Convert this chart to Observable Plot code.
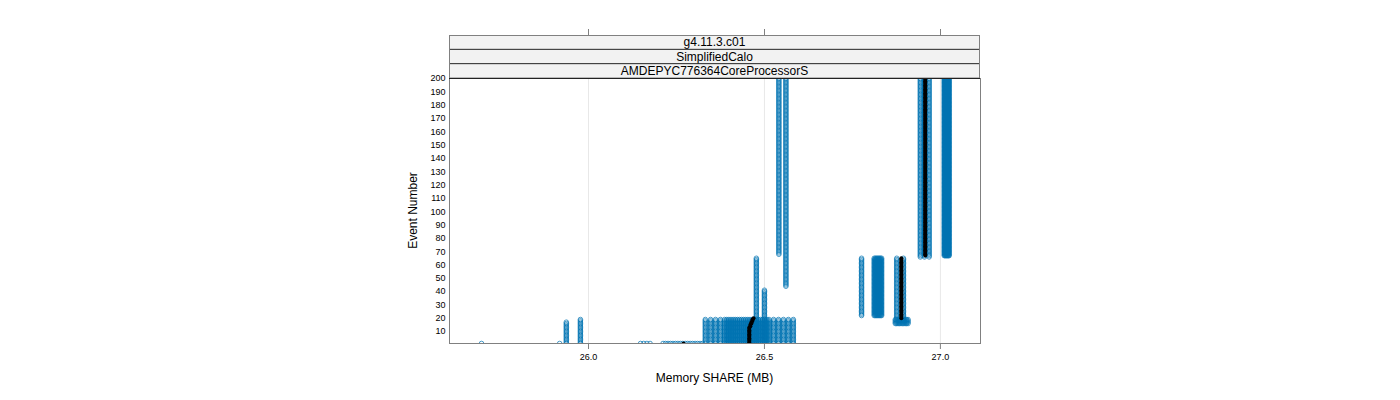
<!DOCTYPE html>
<html><head><meta charset="utf-8">
<script src="https://cdn.jsdelivr.net/npm/d3@7"></script>
<script src="https://cdn.jsdelivr.net/npm/@observablehq/plot@0.6"></script>
<style>body{margin:0;background:#fff;} svg{display:block;}</style>
</head><body><div id="chart"></div>
<script>
// ---- data ----
const stripLabels = ["g4.11.3.c01", "SimplifiedCalo", "AMDEPYC776364CoreProcessorS"];
const xTicks = [26.0, 26.5, 27.0];
const yTicks = [10, 20, 30, 40, 50, 60, 70, 80, 90, 100, 110, 120, 130, 140, 150, 160, 170, 180, 190, 200];
const xLabel = "Memory SHARE (MB)";
const yLabel = "Event Number";

// blue series: memory values (MB) observed over a run of event numbers
const blueClusterX = [
  [25.696],
  [25.918],
  [25.937],
  [25.977],
  [26.148, 26.157, 26.166, 26.175, 26.212, 26.219, 26.226, 26.233, 26.240, 26.247, 26.254, 26.261, 26.268, 26.275, 26.282, 26.289, 26.296, 26.303, 26.310, 26.317, 26.324],
  [26.332, 26.347, 26.361, 26.375, 26.387, 26.393, 26.399, 26.405, 26.411, 26.417, 26.423, 26.429, 26.435, 26.441, 26.447, 26.453, 26.459, 26.465, 26.471, 26.477, 26.483, 26.489, 26.495, 26.501, 26.507, 26.513, 26.526, 26.540, 26.554, 26.568, 26.582],
  [26.477],
  [26.500],
  [26.541],
  [26.561],
  [26.776],
  [26.812, 26.815, 26.818, 26.821, 26.824, 26.827, 26.830, 26.833],
  [26.876, 26.895],
  [26.872, 26.876, 26.880, 26.884, 26.888, 26.892, 26.896, 26.900, 26.904, 26.908],
  [26.943, 26.955, 26.968],
  [27.011, 27.013, 27.015, 27.017, 27.019, 27.021, 27.023, 27.025]
];
const blueFrom = [1, 1, 1, 1, 1, 1, 1, 1, 68, 44, 22, 22, 20, 16, 66, 67];
const blueTo   = [1, 1, 17, 19, 1, 19, 65, 41, 200, 200, 65, 65, 65, 19, 200, 200];

// black series
const blackX    = [26.270, 26.457, 26.460, 26.463, 26.466, 26.469, 26.889, 26.957];
const blackFrom = [1, 1, 14, 16, 18, 20, 20, 67];
const blackTo   = [1, 13, 15, 17, 19, 20, 65, 200];

(function () {
  // ---- expand run lists into points ----
  const blue = [];
  blueClusterX.forEach((xs, i) => {
    for (const x of xs) for (let e = blueFrom[i]; e <= blueTo[i]; e++) blue.push({x, e});
  });
  const black = [];
  blackX.forEach((x, i) => {
    for (let e = blackFrom[i]; e <= blackTo[i]; e++) black.push({x, e});
  });

  const FONT = "'Liberation Sans', Arial, sans-serif";
  const frameColor = "#808080";

  const plot = Plot.plot({
    width: 1400, height: 400,
    marginLeft: 449, marginRight: 420, marginTop: 78, marginBottom: 57,
    style: {fontFamily: FONT, fontSize: "9px", background: "#fff", color: "#000", overflow: "visible"},
    x: {domain: [25.605, 27.114]},
    y: {domain: [1, 200]},
    marks: [
      Plot.gridX(xTicks, {stroke: "#e8e8e8", strokeOpacity: 1, strokeWidth: 1}),
      Plot.dot(blue, {x: "x", y: "e", r: 2.3, stroke: "#0072B2", strokeWidth: 0.7, fill: "none", clip: true}),
      Plot.dot(black, {x: "x", y: "e", r: 2, fill: "#000", stroke: "none", clip: true}),
      Plot.frame({stroke: frameColor}),
      Plot.axisX({ticks: xTicks, tickFormat: d3.format(".1f"), tickSize: 6, tickPadding: 4, stroke: frameColor, fill: "#000", label: null, fontSize: 9}),
      Plot.axisY({ticks: yTicks, tickSize: 0, tickPadding: 4, fill: "#000", label: null, fontSize: 9})
    ]
  });
  document.getElementById("chart").appendChild(plot);

  // ---- strips, top ticks, axis titles ----
  const svg = d3.select(plot);
  const sx = plot.scale("x");
  const L = 449, R = 980, T = 35, stripH = (78 - 35) / 3;

  const g = svg.append("g");
  stripLabels.forEach((lab, i) => {
    g.append("rect").attr("x", L + 0.5).attr("y", T + i * stripH)
      .attr("width", R - L - 1).attr("height", stripH)
      .attr("fill", "#f2f2f2").attr("stroke", "none");
    g.append("text").attr("x", (L + R) / 2).attr("y", T + i * stripH + stripH / 2)
      .attr("text-anchor", "middle").attr("dominant-baseline", "central")
      .attr("font-family", FONT).attr("font-size", 12).attr("fill", "#000").text(lab);
  });
  for (let i = 1; i < 3; i++) {
    g.append("line").attr("x1", L).attr("x2", R)
      .attr("y1", T + i * stripH).attr("y2", T + i * stripH)
      .attr("stroke", "#222").attr("stroke-width", 1);
  }
  g.append("rect").attr("x", L + 0.5).attr("y", T + 0.5)
    .attr("width", R - L - 1).attr("height", 78 - T - 0.5)
    .attr("fill", "none").attr("stroke", frameColor);
  g.append("line").attr("x1", L).attr("x2", R).attr("y1", 78.5).attr("y2", 78.5)
    .attr("stroke", "#222");

  xTicks.forEach(t => {
    const px = Math.round(sx.apply(t)) + 0.5;
    g.append("line").attr("x1", px).attr("x2", px).attr("y1", 29).attr("y2", T)
      .attr("stroke", frameColor);
  });

  g.append("text").attr("x", (L + R) / 2).attr("y", 378)
    .attr("text-anchor", "middle").attr("dominant-baseline", "central")
    .attr("font-family", FONT).attr("font-size", 12).attr("fill", "#000").text(xLabel);
  g.append("text").attr("transform", `translate(413,${(78 + 343) / 2}) rotate(-90)`)
    .attr("text-anchor", "middle").attr("dominant-baseline", "central")
    .attr("font-family", FONT).attr("font-size", 12).attr("fill", "#000").text(yLabel);
})();
</script>
</body></html>
